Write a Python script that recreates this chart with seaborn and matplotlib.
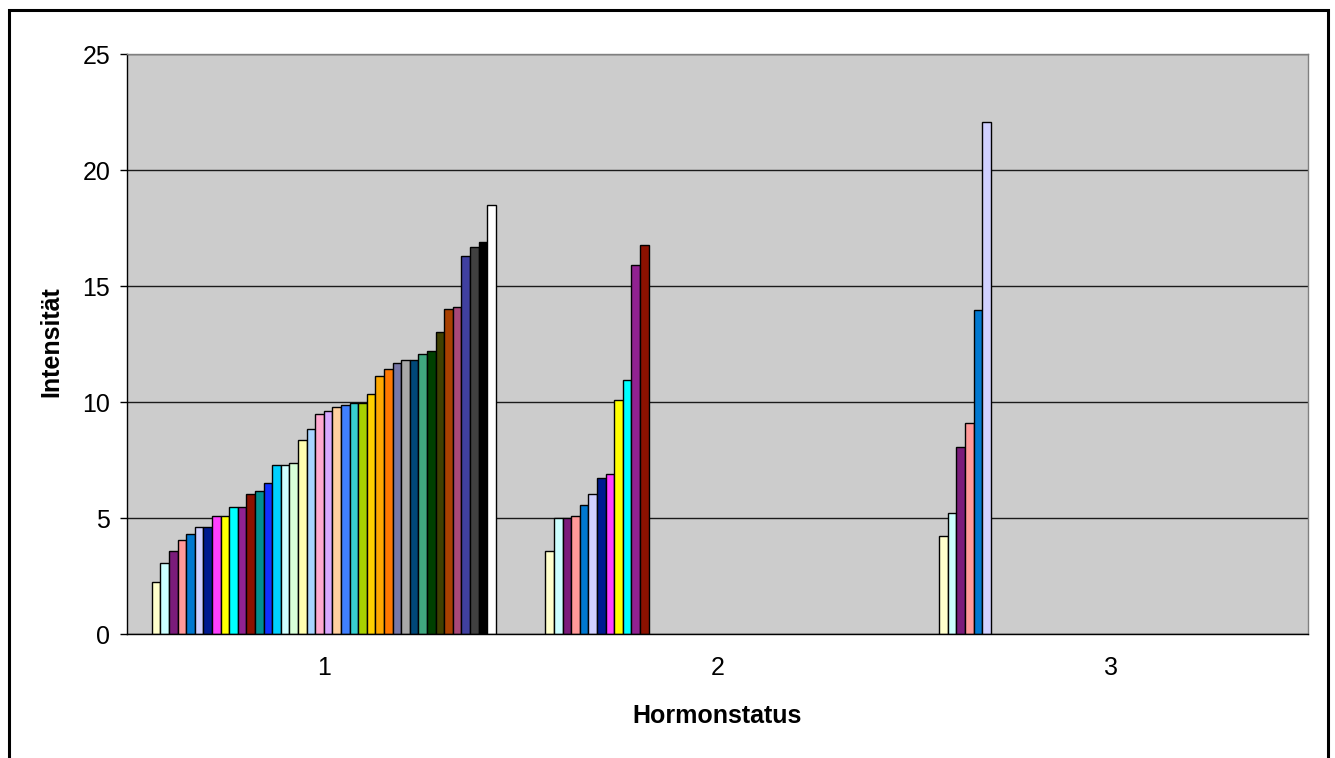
import numpy as np
import pandas as pd
import matplotlib
matplotlib.use("Agg")
import matplotlib.pyplot as plt
from matplotlib.patches import Rectangle
import seaborn as sns

# Hormone status categories on the x axis
categories = ["1", "2", "3"]

# Intensity per sample, sorted ascending within each hormone status group
status1 = [2.23, 3.07, 3.56, 4.04, 4.32, 4.61, 4.61, 5.09, 5.09, 5.47,
           5.47, 6.05, 6.16, 6.52, 7.28, 7.28, 7.38, 8.35, 8.82, 9.50,
           9.60, 9.77, 9.87, 9.97, 9.97, 10.36, 11.12, 11.41, 11.69, 11.80,
           11.80, 12.08, 12.18, 13.03, 14.01, 14.08, 16.29, 16.67, 16.88, 18.49]
status2 = [3.56, 5.00, 5.00, 5.09, 5.56, 6.05, 6.72, 6.91, 10.07, 10.93,
           15.90, 16.77]
status3 = [4.24, 5.22, 8.06, 9.11, 13.97, 22.06]

# Series fill colours (classic spreadsheet chart palette)
series_colors = [
    "#FFFFCC", "#CCFFFF", "#7B1C7B", "#FF9999", "#0078D0", "#D0D0FF",
    "#001A90", "#FF40FF", "#FFFF00", "#00FFFF", "#912291", "#8B1100",
    "#009090", "#1030FF", "#00D0FF", "#D0FFFF", "#D8FFD8", "#FFFFB0",
    "#A8D4FF", "#FFA8D0", "#D8A8FF", "#FFD0A0", "#4080FF", "#38D0D0",
    "#A8D000", "#FFD000", "#FFA800", "#FF7800", "#7878A8", "#A8A8A8",
    "#004878", "#40A880", "#004000", "#404000", "#A84000", "#A84878",
    "#4040A0", "#404040", "#000000", "#FFFFFF",
]

y_ticks = [0, 5, 10, 15, 20, 25]

n_series = len(status1)
series_names = [f"S{i + 1}" for i in range(n_series)]

rows = []
for cat, vals in zip(categories, [status1, status2, status3]):
    for i, v in enumerate(vals):
        rows.append({"Hormonstatus": cat, "Serie": series_names[i], "Intensität": v})
df = pd.DataFrame(rows)

sns.set_theme(style="white")
plt.rcParams["font.family"] = ["Liberation Sans", "DejaVu Sans"]
plt.rcParams["text.color"] = "black"
plt.rcParams["axes.labelcolor"] = "black"

fig = plt.figure(figsize=(13.35, 7.58), dpi=100)
ax = fig.add_axes([127 / 1335, 1 - 634 / 758, 1181 / 1335, 580 / 758])
ax.set_facecolor("#CCCCCC")

sns.barplot(
    data=df, x="Hormonstatus", y="Intensität", hue="Serie",
    order=categories, hue_order=series_names,
    palette=dict(zip(series_names, series_colors)),
    errorbar=None, width=0.874, dodge=True, legend=False,
    edgecolor="black", linewidth=1.0, saturation=1.0, ax=ax,
)

ax.set_xlim(-0.5, 2.5)
ax.set_ylim(0, 25)
ax.set_yticks(y_ticks)
ax.set_yticklabels([str(t) for t in y_ticks])

# gridlines behind the bars
ax.set_axisbelow(True)
ax.yaxis.grid(True, color="#1A1A1A", linewidth=1.0)
ax.xaxis.grid(False)

# category separators as outward ticks on the x axis
ax.set_xticks(range(len(categories)))
ax.set_xticklabels(categories)
ax.set_xticks([-0.5, 0.5, 1.5, 2.5], minor=True)
ax.tick_params(axis="x", which="major", length=0, pad=16, labelsize=18, labelcolor="black")
ax.tick_params(axis="x", which="minor", length=5, width=1, color="#000000", direction="out")
ax.tick_params(axis="y", which="major", length=5, width=1, pad=7, labelsize=18,
               direction="out", color="#000000", labelcolor="black", left=True)

for side in ["left", "bottom"]:
    ax.spines[side].set_color("#000000")
    ax.spines[side].set_linewidth(1.0)
for side in ["top", "right"]:
    ax.spines[side].set_color("#808080")
    ax.spines[side].set_linewidth(1.0)
    ax.spines[side].set_visible(True)

ax.set_xlabel("Hormonstatus", fontsize=18, fontweight="bold", color="black")
ax.set_ylabel("Intensität", fontsize=18, fontweight="bold", color="black")
ax.xaxis.set_label_coords(0.5, -0.121)
ax.yaxis.set_label_coords(-0.054, 0.504)

# outer chart frame
fig.patches.append(Rectangle((9 / 1335, -0.02), (1328 - 9) / 1335, (758 - 10) / 758 + 0.02,
                             transform=fig.transFigure, fill=False,
                             edgecolor="black", linewidth=2.2))

fig.savefig("out.png", dpi=100)
